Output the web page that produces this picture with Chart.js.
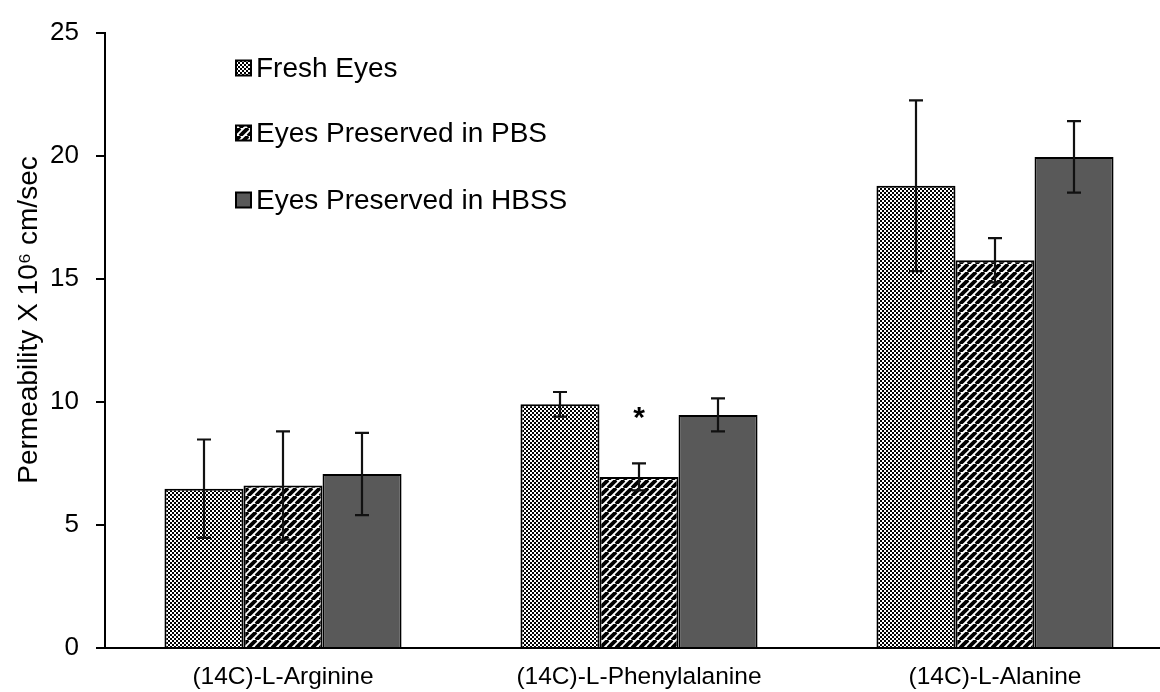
<!DOCTYPE html>
<html>
<head>
<meta charset="utf-8">
<script src="https://cdn.jsdelivr.net/npm/chart.js@4.4.1/dist/chart.umd.min.js"></script>
<style>
  html, body { margin: 0; padding: 0; background: #fff; overflow: hidden; }
  #wrap { width: 1175px; height: 692px; }
</style>
</head>
<body>
<div id="wrap"><canvas id="chart" width="1175" height="692"></canvas></div>
<script>
// Permeability (x 10^6 cm/sec) of radiolabelled amino acids
const categories = ['(14C)-L-Arginine', '(14C)-L-Phenylalanine', '(14C)-L-Alanine'];
const seriesNames = ['Fresh Eyes', 'Eyes Preserved in PBS', 'Eyes Preserved in HBSS'];
const freshEyes = [6.47, 9.9, 18.78];
const pbsEyes = [6.6, 6.95, 15.75];
const hbssEyes = [7.07, 9.47, 19.95];
const freshErr = [2.0, 0.5, 3.47];
const pbsErr = [2.2, 0.55, 0.9];
const hbssErr = [1.67, 0.67, 1.45];
const yTicks = [0, 5, 10, 15, 20, 25];
const yTitle = 'Permeability X 10\u2076 cm/sec';
// significance marker: [category index, series index, y value]
const marker = [1, 1, 9.55];

const FONT = '"Liberation Sans", Arial, sans-serif';

function checkerPattern() {
  const c = document.createElement('canvas');
  c.width = 4; c.height = 4;
  const g = c.getContext('2d');
  g.fillStyle = '#fff'; g.fillRect(0, 0, 4, 4);
  g.fillStyle = '#000';
  g.fillRect(0, 0, 2, 2);
  g.fillRect(2, 2, 2, 2);
  return g.createPattern(c, 'repeat');
}

function stripePattern() {
  const s = 8;
  const c = document.createElement('canvas');
  c.width = s; c.height = s;
  const g = c.getContext('2d');
  g.fillStyle = '#fff'; g.fillRect(0, 0, s, s);
  g.strokeStyle = '#000';
  g.lineWidth = 3.8;
  for (let k = -1; k <= 1; k++) {
    g.beginPath();
    g.moveTo(k * s, s);
    g.lineTo(k * s + s, 0);
    g.stroke();
  }
  return g.createPattern(c, 'repeat');
}

const fills = [checkerPattern(), stripePattern(), '#595959'];
const values = [freshEyes, pbsEyes, hbssEyes];
const errors = [freshErr, pbsErr, hbssErr];

const datasets = seriesNames.map((name, i) => ({
  label: name,
  data: values[i],
  errors: errors[i],
  backgroundColor: fills[i],
  borderColor: '#000',
  borderWidth: 2,
  borderSkipped: 'bottom'
}));

// error bars with caps, plus the significance asterisk
const errorBars = {
  id: 'errorBars',
  afterDatasetsDraw(chart) {
    const ctx = chart.ctx;
    const y = chart.scales.y;
    ctx.save();
    ctx.strokeStyle = '#111';
    ctx.lineWidth = 2.2;
    chart.data.datasets.forEach((ds, di) => {
      const meta = chart.getDatasetMeta(di);
      meta.data.forEach((bar, i) => {
        const v = ds.data[i], e = ds.errors[i];
        const top = y.getPixelForValue(v + e);
        const bot = y.getPixelForValue(v - e);
        const x = Math.round(bar.x);
        ctx.beginPath();
        ctx.moveTo(x, top); ctx.lineTo(x, bot);
        ctx.moveTo(x - 7, top); ctx.lineTo(x + 7, top);
        ctx.moveTo(x - 7, bot); ctx.lineTo(x + 7, bot);
        ctx.stroke();
      });
    });
    const bar = chart.getDatasetMeta(marker[1]).data[marker[0]];
    ctx.fillStyle = '#000';
    ctx.font = 'bold 30px ' + FONT;
    ctx.textAlign = 'center';
    ctx.textBaseline = 'middle';
    ctx.fillText('*', bar.x, y.getPixelForValue(marker[2]) + 6);
    ctx.restore();
  }
};

// legend stacked in the upper left of the plot, and the y axis title
const legendBoxes = {
  id: 'legendBoxes',
  afterDraw(chart) {
    const ctx = chart.ctx;
    const x0 = 236, rows = [68, 133, 200], box = 15;
    ctx.save();
    ctx.font = '28px ' + FONT;
    ctx.textBaseline = 'middle';
    ctx.textAlign = 'left';
    chart.data.datasets.forEach((ds, i) => {
      const cy = rows[i];
      ctx.fillStyle = ds.backgroundColor;
      ctx.fillRect(x0, cy - box / 2, box, box);
      ctx.strokeStyle = '#000';
      ctx.lineWidth = 2;
      ctx.strokeRect(x0, cy - box / 2, box, box);
      ctx.fillStyle = '#000';
      ctx.fillText(ds.label, x0 + box + 5, cy + 1);
    });
    // rotated axis title
    ctx.translate(29, 320);
    ctx.rotate(-Math.PI / 2);
    ctx.textAlign = 'center';
    ctx.font = '28px ' + FONT;
    ctx.fillText(yTitle, 0, 0);
    ctx.restore();
  }
};

new Chart(document.getElementById('chart'), {
  type: 'bar',
  data: { labels: categories, datasets },
  options: {
    responsive: false,
    animation: false,
    layout: { padding: { top: 29, right: 2, left: 0, bottom: 0 } },
    datasets: { bar: { categoryPercentage: 0.666, barPercentage: 1.0 } },
    plugins: { legend: { display: false }, tooltip: { enabled: false } },
    scales: {
      x: {
        grid: { display: false, drawTicks: false },
        border: { display: true, color: '#000', width: 2 },
        ticks: { color: '#000', font: { family: FONT, size: 24.5 }, padding: 15, maxRotation: 0 },
        afterFit(s) { s.height = 44; }
      },
      y: {
        min: 0, max: 25,
        afterBuildTicks(s) { s.ticks = yTicks.map(v => ({ value: v })); },
        grid: { display: true, drawOnChartArea: false, drawTicks: true, tickLength: 9, color: '#000', lineWidth: 2 },
        border: { display: true, color: '#000', width: 2 },
        ticks: { color: '#000', font: { family: FONT, size: 26 }, padding: 17 },
        afterFit(s) { s.width = 105; }
      }
    }
  },
  plugins: [errorBars, legendBoxes]
});
</script>
</body>
</html>
